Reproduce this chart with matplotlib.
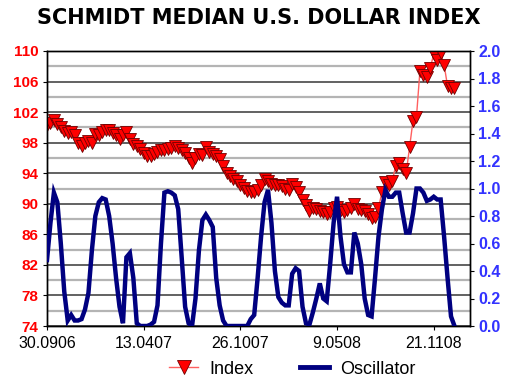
import matplotlib
matplotlib.use("Agg")
import matplotlib.pyplot as plt
from matplotlib.lines import Line2D

plt.rcParams['font.family'] = ['Liberation Sans', 'DejaVu Sans']

title = "SCHMIDT MEDIAN U.S. DOLLAR INDEX"
tick_labels = ["30.0906", "13.0407", "26.1007", "9.0508", "21.1108"]
tick_step = 28
left_ticks = [74, 78, 82, 86, 90, 94, 98, 102, 106, 110]
right_ticks = [0.0, 0.2, 0.4, 0.6, 0.8, 1.0, 1.2, 1.4, 1.6, 1.8, 2.0]

index_values = [
    100.3, 100.6, 101.0, 100.5, 100.0, 99.5, 99.3, 99.4, 99.0, 98.0,
    97.5, 98.0, 98.2, 98.0, 99.2, 99.0, 99.4, 99.6, 99.6, 99.3,
    99.0, 98.5, 99.0, 99.4, 98.5, 97.8, 97.5, 97.2, 96.7, 96.2,
    96.2, 96.5, 96.8, 97.0, 97.1, 97.2, 97.3, 97.5, 97.3, 97.0,
    96.6, 96.0, 95.3, 96.0, 96.5, 96.4, 97.4, 96.8, 96.5, 96.3,
    95.8, 94.9, 94.0, 93.6, 93.3, 93.0, 92.5, 92.1, 91.7, 91.5,
    91.6, 91.8, 92.5, 93.3, 93.0, 92.6, 92.5, 92.4, 92.3, 92.0,
    91.8, 92.6, 92.2, 91.6, 90.5, 89.8, 89.0, 89.4, 89.3, 89.1,
    88.9, 88.6, 88.9, 89.4, 89.6, 89.2, 88.9, 89.2, 89.5, 90.0,
    89.3, 89.2, 89.0, 88.6, 88.2, 88.3, 89.5, 91.5, 92.8, 92.5,
    93.0, 95.0, 95.3, 94.6, 94.0, 97.4, 100.9, 101.4, 107.4, 106.9,
    106.6, 107.8, 109.6, 108.8, 109.7, 108.2, 105.4, 105.2, 105.1,
]

oscillator_values = [
    0.48, 0.75, 0.97, 0.90, 0.60, 0.25, 0.04, 0.08, 0.04, 0.04,
    0.05, 0.12, 0.24, 0.55, 0.80, 0.90, 0.93, 0.92, 0.80, 0.60,
    0.35, 0.14, 0.02, 0.50, 0.53, 0.35, 0.02, 0.00, 0.00, 0.00,
    0.01, 0.03, 0.15, 0.60, 0.97, 0.98, 0.97, 0.95, 0.85, 0.50,
    0.14, 0.02, 0.00, 0.20, 0.55, 0.77, 0.81, 0.77, 0.72, 0.35,
    0.15, 0.04, 0.00, 0.00, 0.00, 0.00, 0.00, 0.00, 0.00, 0.05,
    0.08, 0.35, 0.65, 0.90, 0.99, 0.75, 0.40, 0.21, 0.17, 0.15,
    0.15, 0.38, 0.42, 0.40, 0.14, 0.02, 0.01, 0.10, 0.20, 0.31,
    0.20, 0.18, 0.45, 0.75, 0.94, 0.65, 0.45, 0.39, 0.39, 0.68,
    0.60, 0.45, 0.20, 0.08, 0.07, 0.35, 0.65, 0.85, 0.99, 0.94,
    0.94, 0.97, 0.97, 0.82, 0.68, 0.68, 0.82, 1.00, 1.00, 0.97,
    0.91, 0.92, 0.94, 0.92, 0.92, 0.65, 0.35, 0.07, 0.00,
]

x = list(range(len(index_values)))

fig = plt.figure(figsize=(5.2, 3.89), dpi=100)
ax = fig.add_axes([47/520, 1-326/389, 423/520, 275/389])
ax2 = ax.twinx()

ax.set_ylim(74, 110)
ax2.set_ylim(0, 2.0)
ax.set_xlim(0, 122.5)

# grid lines every 2 units: darker at labelled ticks, lighter between
for v in range(74, 111, 2):
    major = (v - 74) % 4 == 0
    ax.axhline(v, color='#555555' if major else '#b4b4b4', lw=1.3 if major else 1.6, zorder=0.5)

ax.plot(x, index_values, color='#ff6060', lw=1.0, marker='v', markersize=8,
        markerfacecolor='#ff0000', markeredgecolor='#700000', markeredgewidth=0.6, zorder=3)
ax2.plot(x, oscillator_values, color='#000080', lw=3.2, solid_joinstyle='miter', zorder=3)

ax.set_yticks(left_ticks)
ax.set_yticklabels([str(t) for t in left_ticks])
ax2.set_yticks(right_ticks)
ax2.set_yticklabels([f"{t:.1f}" for t in right_ticks])

ticks = [i * tick_step for i in range(len(tick_labels))]
ax.set_xticks(ticks)
ax.set_xticklabels(tick_labels, fontsize=11.5)
ax.tick_params(axis='x', length=3, pad=4)
ax.tick_params(axis='y', labelcolor='#ff0000', labelsize=11, length=3, pad=3)
ax2.tick_params(axis='y', labelcolor='#3333ff', labelsize=11.5, length=3, pad=3)
for lab in ax.get_yticklabels():
    lab.set_fontweight('bold')
for lab in ax2.get_yticklabels():
    lab.set_fontweight('bold')

for a in (ax, ax2):
    for s in a.spines.values():
        s.set_color('black')
        s.set_linewidth(1.0)

fig.text(0.497, 1-18/389, title, ha='center', va='center', fontsize=15,
         fontweight='bold', family=['DejaVu Sans'])

handles = [
    Line2D([], [], color='#ff6060', lw=1.0, marker='v', markersize=10,
           markerfacecolor='#ff0000', markeredgecolor='#700000', markeredgewidth=0.6),
    Line2D([], [], color='#000080', lw=3.5),
]
fig.legend(handles, ["Index", "Oscillator"], loc='center', bbox_to_anchor=(0.562, 1-369/389),
           ncol=2, frameon=False, fontsize=13, handlelength=1.6, columnspacing=2.6, handletextpad=0.6)

fig.savefig("out.png", dpi=100)
